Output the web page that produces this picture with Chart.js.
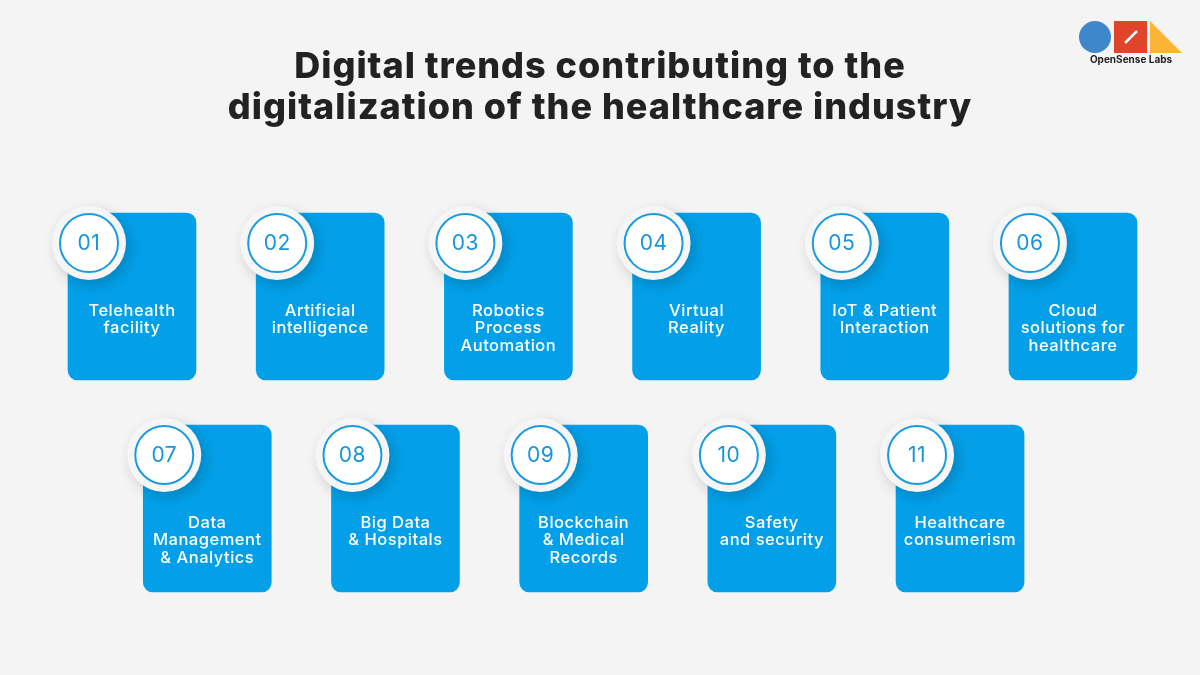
<!DOCTYPE html>
<html>
<head>
<meta charset="utf-8">
<script src="https://cdn.jsdelivr.net/npm/chart.js@4.4.1/dist/chart.umd.min.js"></script>
<style>
  html, body { margin: 0; padding: 0; background: #f4f4f4; }
  #wrap { width: 1200px; height: 675px; position: relative; }
</style>
</head>
<body>
<div id="wrap"><canvas id="chart"></canvas></div>
<script>
// trend numbers and card texts (one entry per line)
const trendNumbers = ["01", "02", "03", "04", "05", "06", "07", "08", "09", "10", "11"];
const trendNames = [
  ["Telehealth", "facility"],
  ["Artificial", "intelligence"],
  ["Robotics", "Process", "Automation"],
  ["Virtual", "Reality"],
  ["IoT & Patient", "Interaction"],
  ["Cloud", "solutions for", "healthcare"],
  ["Data", "Management", "& Analytics"],
  ["Big Data", "& Hospitals"],
  ["Blockchain", "& Medical", "Records"],
  ["Safety", "and security"],
  ["Healthcare", "consumerism"]
];
const titleLines = [
  "Digital trends contributing to the",
  "digitalization of the healthcare industry"
];
const brandName = "OpenSense Labs";

// grid: 6 cards on the first row, the rest on the second, shifted right
const perRow = 6;
const rowShift = 0.4;
const cardHalf = 0.394;     // half card height, in rows
const badgeDx = -0.2285;    // badge offset from card centre, in columns
const badgeDy = -0.252;     // badge offset from card centre, in rows

const colOf = (i) => (i < perRow ? i : i - perRow + rowShift);
const rowOf = (i) => (i < perRow ? 0 : 1);

const cardData = trendNumbers.map((n, i) => ({
  x: colOf(i),
  y: [rowOf(i) - cardHalf, rowOf(i) + cardHalf]
}));
const badgeData = trendNumbers.map((n, i) => ({
  x: colOf(i) + badgeDx,
  y: rowOf(i) + badgeDy
}));

const BLUE = "#03a0e9";

const infoPlugin = {
  id: "infoText",
  beforeDatasetDraw(chart, args) {
    if (args.index === 1) {
      const ctx = chart.ctx;
      ctx.save();
      ctx.shadowColor = "rgba(0,0,0,0.18)";
      ctx.shadowBlur = 14;
      ctx.shadowOffsetX = 4;
      ctx.shadowOffsetY = 5;
    }
  },
  afterDatasetDraw(chart, args) {
    if (args.index === 1) chart.ctx.restore();
  },
  afterDatasetsDraw(chart) {
    const ctx = chart.ctx;
    ctx.save();
    ctx.textAlign = "center";
    ctx.textBaseline = "middle";

    // card labels
    const cards = chart.getDatasetMeta(0).data;
    ctx.fillStyle = "#ffffff";
    ctx.font = "500 16.5px Inter, 'Open Sans', sans-serif";
    ctx.letterSpacing = "0.5px";
    cards.forEach((el, i) => {
      const top = Math.min(el.y, el.base);
      trendNames[i].forEach((line, k) => {
        ctx.fillText(line, el.x, top + 98 + k * 17.5);
      });
    });

    // badge numbers
    const rings = chart.getDatasetMeta(2).data;
    ctx.fillStyle = "#1695dc";
    ctx.font = "400 21px Inter, 'Open Sans', sans-serif";
    ctx.letterSpacing = "0.5px";
    rings.forEach((el, i) => {
      ctx.fillText(trendNumbers[i], el.x, el.y + 1);
    });

    // title
    ctx.fillStyle = "#222222";
    ctx.font = "800 36px Inter, sans-serif";
    ctx.letterSpacing = "1px";
    titleLines.forEach((line, k) => {
      ctx.fillText(line, 600, 67 + k * 41);
    });

    // logo
    ctx.letterSpacing = "0px";
    ctx.fillStyle = "#3f87cb";
    ctx.beginPath();
    ctx.arc(1095, 37, 16, 0, Math.PI * 2);
    ctx.fill();
    ctx.fillStyle = "#e0452b";
    ctx.fillRect(1114, 21, 33, 32);
    ctx.strokeStyle = "#ffffff";
    ctx.lineWidth = 2.5;
    ctx.beginPath();
    ctx.moveTo(1125, 43);
    ctx.lineTo(1137, 31);
    ctx.stroke();
    ctx.fillStyle = "#fbb438";
    ctx.beginPath();
    ctx.moveTo(1150, 21);
    ctx.lineTo(1150, 53);
    ctx.lineTo(1182, 53);
    ctx.closePath();
    ctx.fill();
    ctx.fillStyle = "#222222";
    ctx.font = "700 10px Inter, sans-serif";
    ctx.fillText(brandName, 1131, 60);
    ctx.restore();
  }
};

new Chart(document.getElementById("chart"), {
  type: "bar",
  data: {
    datasets: [
      {
        label: "cards",
        data: cardData,
        backgroundColor: BLUE,
        borderRadius: 10,
        borderSkipped: false,
        barThickness: 128,
        order: 3
      },
      {
        type: "scatter",
        label: "badge",
        data: badgeData,
        pointRadius: 37,
        pointBackgroundColor: "#f6f6f6",
        pointBorderWidth: 0,
        order: 2
      },
      {
        type: "scatter",
        label: "ring",
        data: badgeData,
        pointRadius: 29,
        pointBackgroundColor: "#ffffff",
        pointBorderColor: "#1a9be0",
        pointBorderWidth: 2,
        order: 1
      }
    ]
  },
  options: {
    responsive: true,
    maintainAspectRatio: false,
    animation: false,
    events: [],
    layout: { padding: 0, autoPadding: false },
    plugins: {
      legend: { display: false },
      tooltip: { enabled: false },
      title: { display: false }
    },
    scales: {
      x: { type: "linear", offset: false, min: -0.7014, max: 5.675, display: false },
      y: { type: "linear", reverse: true, min: -1.3986, max: 1.7854, display: false }
    }
  },
  plugins: [infoPlugin]
});
</script>
</body>
</html>
